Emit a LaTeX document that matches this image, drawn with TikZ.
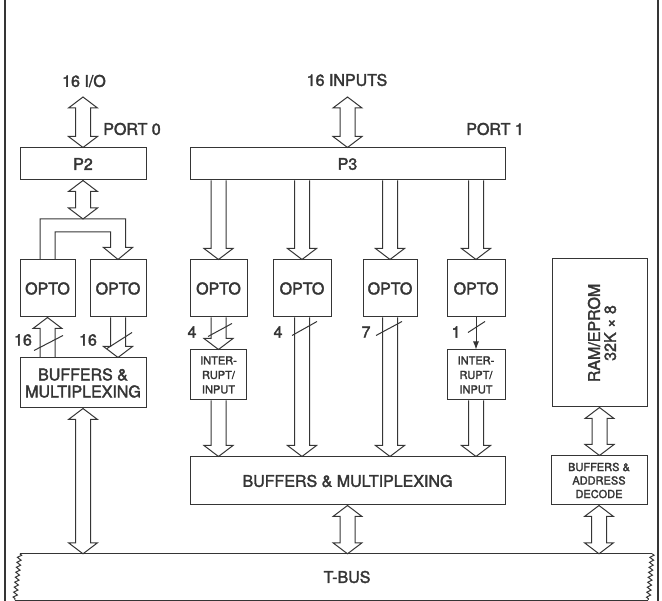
\documentclass[tikz,border=0pt]{standalone}
\usepackage{fontspec}
\setmainfont[FakeBold=2.2]{TeX Gyre Heros}
\usetikzlibrary{calc,arrows.meta,decorations.pathmorphing}
\definecolor{ink}{HTML}{353535}
% hollow bus arrows (vertical); #1 = upper point, #2 = lower point
\newcommand\fatdown[2]{\draw[fat] let \p1=(#1), \p2=(#2) in
  (\x2-7.5pt,\y1) -- (\x2-7.5pt,\y2+11pt) -- (\x2-14.5pt,\y2+11pt) -- (\x2,\y2)
  -- (\x2+14.5pt,\y2+11pt) -- (\x2+7.5pt,\y2+11pt) -- (\x2+7.5pt,\y1);}
\newcommand\fatup[2]{\draw[fat] let \p1=(#1), \p2=(#2) in
  (\x1-7.5pt,\y2) -- (\x1-7.5pt,\y1-11pt) -- (\x1-14.5pt,\y1-11pt) -- (\x1,\y1)
  -- (\x1+14.5pt,\y1-11pt) -- (\x1+7.5pt,\y1-11pt) -- (\x1+7.5pt,\y2);}
\newcommand\fatboth[2]{\draw[fat] let \p1=(#1), \p2=(#2) in
  (\x1-7.5pt,\y1-11pt) -- (\x1-14.5pt,\y1-11pt) -- (\x1,\y1) -- (\x1+14.5pt,\y1-11pt)
  -- (\x1+7.5pt,\y1-11pt) -- (\x1+7.5pt,\y2+11pt) -- (\x1+14.5pt,\y2+11pt) -- (\x1,\y2)
  -- (\x1-14.5pt,\y2+11pt) -- (\x1-7.5pt,\y2+11pt) -- cycle;}
\begin{document}
\begin{tikzpicture}[x=1pt,y=-1pt,
  big/.style={font=\fontsize{16}{17}\selectfont},
  small/.style={font=\fontsize{11}{13.5}\selectfont},
  blk/.style={draw=ink, line width=1pt, text=ink, inner sep=0pt, align=center, big},
  lbl/.style={text=ink, inner sep=0pt, align=center, big},
  fat/.style={draw=ink, line width=1pt, line join=miter},
  ln/.style={draw=ink, line width=1pt},
  zig/.style={ln, decorate, decoration={zigzag, segment length=5pt, amplitude=2pt}}]
\useasboundingbox (0,0) rectangle (662,601);
% frame
\draw[ink, line width=2pt] (5,0) -- (5,601);
\draw[ink, line width=2pt] (658,0) -- (658,601);
% boxes
\node[blk, minimum width=126pt, minimum height=32pt] (p2) at (83,164) {P2};
\node[blk, minimum width=315pt, minimum height=32pt] (p3) at (347.5,164) {P3};
\node[blk, minimum width=55pt, minimum height=57pt] (o1) at (47.5,288.5) {OPTO};
\node[blk, minimum width=56pt, minimum height=57pt] (o2) at (118,288.5) {OPTO};
\node[blk, minimum width=57pt, minimum height=57pt] (o3) at (218.5,288.5) {OPTO};
\node[blk, minimum width=58pt, minimum height=57pt] (o4) at (302,288.5) {OPTO};
\node[blk, minimum width=54pt, minimum height=57pt] (o5) at (390,288.5) {OPTO};
\node[blk, minimum width=58pt, minimum height=57pt] (o6) at (476,288.5) {OPTO};
\node[blk, minimum width=126pt, minimum height=50pt] (bl) at (83,383) {BUFFERS \&\\MULTIPLEXING};
\node[blk, small, minimum width=56pt, minimum height=50pt, font=\fontsize{11}{14.5}\selectfont] (i1) at (218.5,375) {INTER-\\RUPT/\\INPUT};
\node[blk, small, minimum width=58pt, minimum height=50pt, font=\fontsize{11}{14.5}\selectfont] (i2) at (476,375) {INTER-\\RUPT/\\INPUT};
\node[blk, minimum width=315pt, minimum height=48pt] (bc) at (347.5,481) {BUFFERS \& MULTIPLEXING};
\node[blk, minimum width=95pt, minimum height=148pt] (ram) at (599.5,333) {};
\node[lbl, rotate=90, font=\fontsize{16}{16}\selectfont] (ramtxt) at (602,333) {RAM/EPROM\\32K × 8};
\node[blk, small, minimum width=96pt, minimum height=49pt] (ba) at (599,480.5) {BUFFERS \&\\ADDRESS\\DECODE};
\node[minimum width=632pt, minimum height=46pt, inner sep=0pt] (tbus) at (333.5,577) {};
\node[lbl] (tbustxt) at (347,577) {T-BUS};
% T-BUS outline
\draw[ln] ($(tbus.north west)+(2.5,0)$) -- ($(tbus.north east)+(2.5,0)$);
\draw[ln] ($(tbus.south west)+(-2.5,0)$) -- ($(tbus.south east)+(-1.5,0)$);
\draw[zig] ($(tbus.north west)+(2.5,0)$) -- ($(tbus.south west)+(-2.5,0)$);
\draw[zig] ($(tbus.north east)+(2.5,0)$) -- ($(tbus.south east)+(-1.5,0)$);
% texts
\node[lbl] (t16io) at (84,81) {16 I/O};
\node[lbl] (t16in) at (347,80) {16 INPUTS};
\node[lbl] (tport0) at (132,129) {PORT 0};
\node[lbl] (tport1) at (495,129) {PORT 1};
\node[lbl] (n16a) at (23,340) {16};
\node[lbl] (n16b) at (88,340) {16};
\node[lbl] (n4a) at (192,332) {4};
\node[lbl] (n4b) at (278,332) {4};
\node[lbl] (n7) at (366,332) {7};
\node[lbl] (n1) at (456,332) {1};
% top bus arrows
\coordinate (io) at (83,97);
\coordinate (inp) at (347.5,97);
\fatboth{io}{p2.north}
\fatboth{inp}{p3.north}
\coordinate (br) at (83,219);
\fatboth{p2.south}{br}
% branch to left OPTOs
\draw[fat] let \p1=(o1.north), \p2=(o2.north), \p3=(br) in
  (\x1-7.5pt,\y1) -- (\x1-7.5pt,\y3) -- (\x2+7.5pt,\y3) -- (\x2+7.5pt,\y2+12pt)
  -- (\x2+14.5pt,\y2+12pt) -- (\x2,\y2) -- (\x2-14.5pt,\y2+12pt) -- (\x2-7.5pt,\y2+12pt)
  -- (\x2-7.5pt,\y3-13pt) -- (\x1+7.5pt,\y3-13pt) -- (\x1+7.5pt,\y1);
% left OPTO <-> buffers
\fatup{o1.south}{o1.south |- bl.north}
\fatdown{o2.south}{o2.south |- bl.north}
\fatboth{bl.south}{bl.south |- tbus.north}
% P3 to OPTOs
\fatdown{p3.south -| o3.north}{o3.north}
\fatdown{p3.south -| o4.north}{o4.north}
\fatdown{p3.south -| o5.north}{o5.north}
\fatdown{p3.south -| o6.north}{o6.north}
% OPTOs down
\fatdown{o3.south}{o3.south |- i1.north}
\fatdown{o4.south}{o4.south |- bc.north}
\fatdown{o5.south}{o5.south |- bc.north}
\draw[ln, -{Latex[length=8pt,width=6pt]}] (o6.south) -- (i2.north);
\fatdown{i1.south}{i1.south |- bc.north}
\fatdown{i2.south}{i2.south |- bc.north}
\fatboth{bc.south}{bc.south |- tbus.north}
% memory
\fatboth{ram.south}{ba.north}
\fatboth{ba.south}{ba.south |- tbus.north}
% slashes
\draw[ln] ($(o1.south)+(-13.5,33)$) -- ($(o1.south)+(15.5,18)$);
\draw[ln] ($(o2.south)+(-11,31)$) -- ($(o2.south)+(14,15)$);
\draw[ln] ($(o3.south)+(-10.5,19)$) -- ($(o3.south)+(13.5,6)$);
\draw[ln] ($(o4.south)+(-10,18)$) -- ($(o4.south)+(15,4)$);
\draw[ln] ($(o5.south)+(-14,18)$) -- ($(o5.south)+(12,4)$);
\draw[ln] ($(o6.south)+(-8,15)$) -- ($(o6.south)+(9,4)$);
\end{tikzpicture}
\end{document}
